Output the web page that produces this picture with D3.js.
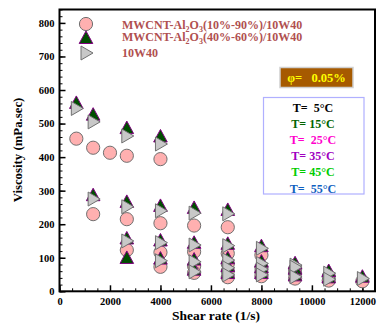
<!DOCTYPE html>
<html>
<head>
<meta charset="utf-8">
<script src="https://cdn.jsdelivr.net/npm/d3@7"></script>
<style>
  html, body { margin: 0; padding: 0; background: #fff; }
  svg { display: block; }
  text { font-family: "Liberation Serif", "Times New Roman", serif; font-weight: bold; }
</style>
</head>
<body>
<svg id="chart" width="377" height="324"></svg>
<script>
// Shear rates (1/s) at which viscosity was measured
const shearRates = [666.7, 1333.3, 2000, 2666.7, 4000, 5333.3, 6666.7, 8000, 9333.3, 10666.7, 12000];

// Temperature labels and their colours
const tempLabels = ["T=  5°C", "T= 15°C", "T=  25°C", "T= 35°C", "T= 45°C", "T=  55°C"];
const tempColors = ["#000000", "#006400", "#ff00cc", "#a000c0", "#00cc00", "#1060c0"];

// Viscosity (mPa.sec), one row per temperature, aligned with shearRates
const viscHybrid1090 = [
  [455, 428, 413, 404, 394, null, null, null, null, null, null],
  [null, 230, null, 215, 203, 196, 191, null, null, null, null],
  [null, null, null, 123, 116, 118, 113, 108, null, null, null],
  [null, null, null, null, 73, 75, 82, 72, 66, null, null],
  [null, null, null, null, null, 55, 60, 58, 54, 44, null],
  [null, null, null, null, null, null, 42, 45, 38, 32, 30]
];
const viscHybrid4060 = [
  [560, 525, null, 485, 460, null, null, null, null, null, null],
  [null, 285, null, 265, 253, 247, 241, null, null, null, null],
  [null, null, null, 156, 150, 143, 140, 133, null, null, null],
  [null, null, null, 98, 96, 93, 97, 87, 82, null, null],
  [null, null, null, null, null, 63, 74, 70, 66, 59, null],
  [null, null, null, null, null, null, 53, 53, 46, 40, 42]
];
const viscBaseOil = [
  [545, 505, null, 463, 439, null, null, null, null, null, null],
  [null, 275, null, 252, 240, 233, 231, null, null, null, null],
  [null, null, null, 150, 145, 138, 136, 128, null, null, null],
  [null, null, null, null, 91, 88, 93, 83, 78, null, null],
  [null, null, null, null, null, 58, 70, 66, 72, 54, null],
  [null, null, null, null, null, null, 49, 49, 43, 36, 38]
];

const xTicks = [0, 2000, 4000, 6000, 8000, 10000, 12000];
const yTicks = [0, 100, 200, 300, 400, 500, 600, 700, 800];

const svg = d3.select("#chart");
const x = d3.scaleLinear().domain([0, 12500]).range([59.5, 375]);
const y = d3.scaleLinear().domain([0, 840]).range([291.3, 9.5]);

// Flatten a series table into points
function toPoints(table) {
  const pts = [];
  table.forEach((row, ti) => row.forEach((v, si) => {
    if (v != null) pts.push({ s: shearRates[si], v: v, t: ti });
  }));
  return pts;
}

// Axes with inward ticks
const xMinor = d3.range(0, 12501, 500);
const yMinor = d3.range(0, 841, 20);

svg.append("g").attr("transform", `translate(0,${y(0)})`)
  .call(d3.axisBottom(x).tickValues(xMinor).tickSize(-3).tickFormat(""))
  .call(g => g.select(".domain").remove())
  .selectAll("line").attr("stroke", "#000").attr("stroke-width", 1);

svg.append("g").attr("transform", `translate(${x(0)},0)`)
  .call(d3.axisLeft(y).tickValues(yMinor).tickSize(-3).tickFormat(""))
  .call(g => g.select(".domain").remove())
  .selectAll("line").attr("stroke", "#000").attr("stroke-width", 1);

const xAxis = svg.append("g").attr("transform", `translate(0,${y(0)})`)
  .call(d3.axisBottom(x).tickValues(xTicks).tickSize(-6).tickPadding(6).tickFormat(d3.format("d")));
xAxis.select(".domain").remove();
xAxis.selectAll("line").attr("stroke", "#000").attr("stroke-width", 1.5);
xAxis.selectAll("text").attr("font-size", 10.5).attr("fill", "#000")
  .attr("font-family", "Liberation Serif").attr("font-weight", "bold");

const yAxis = svg.append("g").attr("transform", `translate(${x(0)},0)`)
  .call(d3.axisLeft(y).tickValues(yTicks).tickSize(-6).tickPadding(5).tickFormat(d3.format("d")));
yAxis.select(".domain").remove();
yAxis.selectAll("line").attr("stroke", "#000").attr("stroke-width", 1.5);
yAxis.selectAll("text").attr("font-size", 10.5).attr("fill", "#000")
  .attr("font-family", "Liberation Serif").attr("font-weight", "bold");

// Plot frame
svg.append("rect")
  .attr("x", x(0)).attr("y", y(840))
  .attr("width", x(12500) - x(0)).attr("height", y(0) - y(840))
  .attr("fill", "none").attr("stroke", "#000").attr("stroke-width", 2);

// Marker shapes
const upTri = "M0,-7.5 L6.8,5 L-6.8,5 Z";
const rightTri = "M-5,-7 L7,0 L-5,7 Z";

function drawCircles(g, pts) {
  g.selectAll("circle").data(pts).join("circle")
    .attr("cx", d => x(d.s)).attr("cy", d => y(d.v)).attr("r", 6.6)
    .attr("fill", "#ffb0b0").attr("stroke", "#707070").attr("stroke-width", 1);
}
function drawPaths(g, pts, shape, fill, stroke) {
  g.selectAll("path").data(pts).join("path")
    .attr("d", shape)
    .attr("transform", d => `translate(${x(d.s)},${y(d.v)})`)
    .attr("fill", fill).attr("stroke", stroke).attr("stroke-width", 1);
}

drawCircles(svg.append("g"), toPoints(viscHybrid1090));
drawPaths(svg.append("g"), toPoints(viscHybrid4060), upTri, "#004d00", "#800080");
drawPaths(svg.append("g"), toPoints(viscBaseOil), rightTri, "#c8c8c8", "#707070");

// Series legend
const legendColor = "#b05050";
const leg = svg.append("g");
leg.append("circle").attr("cx", 86).attr("cy", 24).attr("r", 6.6)
  .attr("fill", "#ffb0b0").attr("stroke", "#707070");
leg.append("path").attr("d", upTri).attr("transform", "translate(86,38.5)")
  .attr("fill", "#004d00").attr("stroke", "#800080");
leg.append("path").attr("d", rightTri).attr("transform", "translate(86,53)")
  .attr("fill", "#c8c8c8").attr("stroke", "#707070");

function legendLabel(yPos, mix) {
  const t = leg.append("text").attr("x", 122).attr("y", yPos)
    .attr("font-size", 12).attr("fill", legendColor);
  t.append("tspan").text("MWCNT-Al");
  t.append("tspan").attr("font-size", 8).attr("dy", 3).text("2");
  t.append("tspan").attr("dy", -3).text("O");
  t.append("tspan").attr("font-size", 8).attr("dy", 3).text("3");
  t.append("tspan").attr("dy", -3).text(mix + "/10W40");
}
legendLabel(28.5, "(10%-90%)");
legendLabel(41, "(40%-60%)");
leg.append("text").attr("x", 122).attr("y", 56.5).attr("font-size", 12)
  .attr("fill", legendColor).text("10W40");

// Volume fraction badge
svg.append("rect").attr("x", 280).attr("y", 67.5).attr("width", 73).attr("height", 20)
  .attr("fill", "#a65a00").attr("stroke", "#d0d0d0").attr("stroke-width", 1.5);
svg.append("text").attr("x", 316.5).attr("y", 82).attr("text-anchor", "middle")
  .attr("font-size", 12.5).attr("fill", "#ffff00").attr("xml:space", "preserve")
  .text("φ=   0.05%");

// Temperature key
svg.append("rect").attr("x", 263.5).attr("y", 97.5).attr("width", 100.5).attr("height", 96.5)
  .attr("fill", "#fff").attr("stroke", "#b0b0ff").attr("stroke-width", 1.2);
svg.append("g").selectAll("text").data(tempLabels).join("text")
  .attr("x", 313).attr("y", (d, i) => 112 + i * 16.1)
  .attr("text-anchor", "middle").attr("font-size", 12)
  .attr("fill", (d, i) => tempColors[i]).attr("xml:space", "preserve")
  .text(d => d);

// Axis titles
svg.append("text").attr("x", 216).attr("y", 320).attr("text-anchor", "middle")
  .attr("font-size", 13.5).attr("fill", "#000").text("Shear rate (1/s)");
svg.append("text").attr("transform", "translate(22,150) rotate(-90)")
  .attr("text-anchor", "middle").attr("font-size", 12.8).attr("fill", "#000")
  .text("Viscosity (mPa.sec)");
</script>
</body>
</html>
